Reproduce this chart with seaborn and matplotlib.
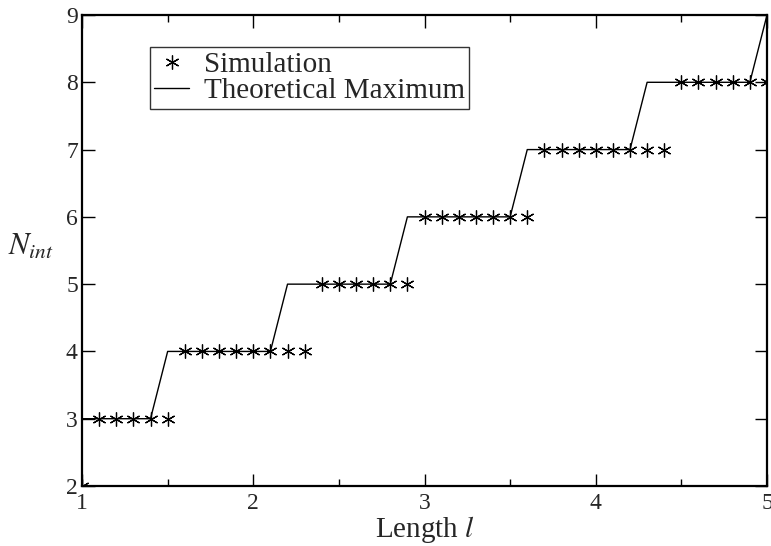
import matplotlib
matplotlib.use("Agg")
import matplotlib.pyplot as plt
import seaborn as sns
import pandas as pd

# --- Daten ---
sim_length = [1.0, 1.1, 1.2, 1.3, 1.4, 1.5,
              1.6, 1.7, 1.8, 1.9, 2.0, 2.1, 2.2, 2.3,
              2.4, 2.5, 2.6, 2.7, 2.8, 2.9,
              3.0, 3.1, 3.2, 3.3, 3.4, 3.5, 3.6,
              3.7, 3.8, 3.9, 4.0, 4.1, 4.2, 4.3, 4.4,
              4.5, 4.6, 4.7, 4.8, 4.9, 5.0]
sim_nint = [2, 3, 3, 3, 3, 3,
            4, 4, 4, 4, 4, 4, 4, 4,
            5, 5, 5, 5, 5, 5,
            6, 6, 6, 6, 6, 6, 6,
            7, 7, 7, 7, 7, 7, 7, 7,
            8, 8, 8, 8, 8, 8]

theo_length = [1.0, 1.1, 1.2, 1.3, 1.4, 1.5, 1.6, 1.7, 1.8, 1.9, 2.0,
               2.1, 2.2, 2.3, 2.4, 2.5, 2.6, 2.7, 2.8, 2.9, 3.0,
               3.1, 3.2, 3.3, 3.4, 3.5, 3.6, 3.7, 3.8, 3.9, 4.0,
               4.1, 4.2, 4.3, 4.4, 4.5, 4.6, 4.7, 4.8, 4.9, 5.0]
theo_nint = [3, 3, 3, 3, 3, 4, 4, 4, 4, 4, 4,
             4, 5, 5, 5, 5, 5, 5, 5, 6, 6,
             6, 6, 6, 6, 6, 7, 7, 7, 7, 7,
             7, 7, 8, 8, 8, 8, 8, 8, 8, 9]

df_sim = pd.DataFrame({"length": sim_length, "nint": sim_nint})
df_theo = pd.DataFrame({"length": theo_length, "nint": theo_nint})

sns.set_style("ticks")
plt.rcParams["font.family"] = ["Liberation Serif", "DejaVu Serif"]
plt.rcParams["mathtext.fontset"] = "stix"
plt.rcParams["xtick.direction"] = "in"
plt.rcParams["ytick.direction"] = "in"

fig = plt.figure(figsize=(7.71, 5.46), dpi=100)
ax = fig.add_axes([0.1064, 0.1099, 0.8884, 0.8626])

# Sterne (Asterisk mit 6 Armen) - Kantenfarbe explizit, sonst setzt seaborn weiss
sns.lineplot(data=df_sim, x="length", y="nint", ax=ax, estimator=None,
             linestyle="none", marker=(6, 2, 0), markersize=10,
             markeredgewidth=0.9, markeredgecolor="black",
             color="black", label="Simulation")
sns.lineplot(data=df_theo, x="length", y="nint", ax=ax, estimator=None,
             color="black", linewidth=1.0, label="Theoretical Maximum")

ax.set_xlim(1, 5)
ax.set_ylim(2, 9)
ax.set_xticks([1, 2, 3, 4, 5])
ax.set_xticks([1.5, 2.5, 3.5, 4.5], minor=True)
ax.set_yticks([2, 3, 4, 5, 6, 7, 8, 9])
ax.tick_params(which="major", length=9, width=1.0, labelsize=17,
               top=True, right=True, color="black", pad=3)
ax.tick_params(which="minor", length=5, width=1.0, top=True, color="black")
ax.tick_params(axis="x", pad=5)

for spine in ax.spines.values():
    spine.set_linewidth(1.6)
    spine.set_color("black")
    spine.set_visible(True)

ax.set_xlabel("Length $l$", fontsize=21, labelpad=0)
ax.set_ylabel("$N_{int}$", fontsize=22, rotation=0)
ax.yaxis.set_label_coords(-0.075, 0.475)

leg = ax.legend(loc="upper left", bbox_to_anchor=(0.099, 0.932), fontsize=21,
                frameon=True, fancybox=False, edgecolor="black",
                handlelength=1.2, handletextpad=0.5, borderpad=0.15,
                labelspacing=0.0, borderaxespad=0)
leg.get_frame().set_linewidth(1.0)

fig.savefig("out.png", dpi=100)
